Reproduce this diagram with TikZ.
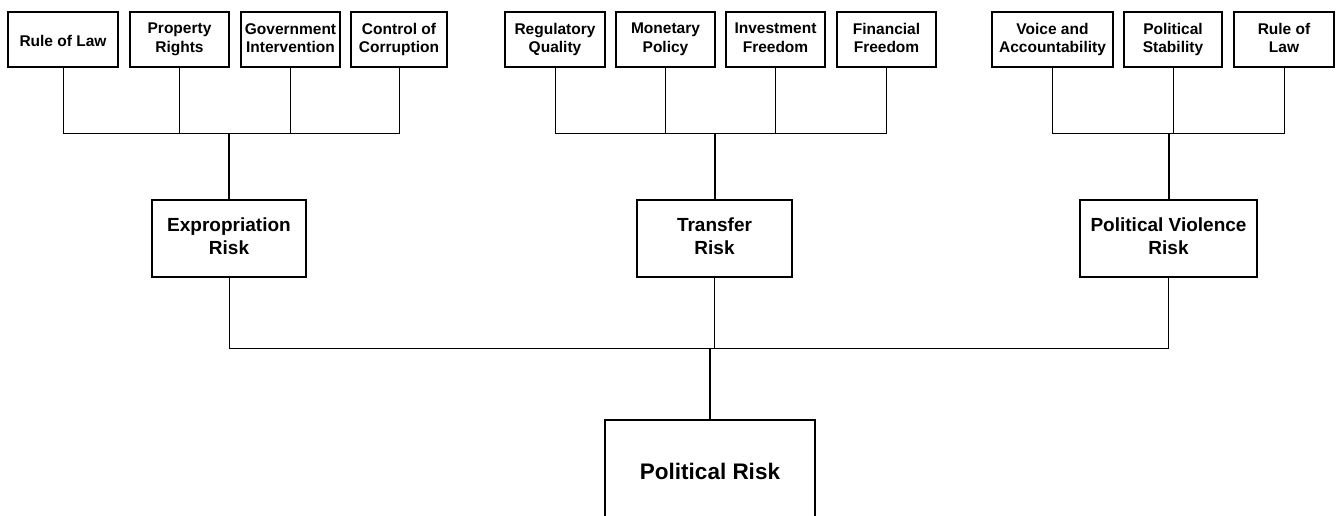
\documentclass[tikz,border=0pt]{standalone}
\usepackage{fontspec}
\setmainfont{Liberation Sans}
\begin{document}
\begin{tikzpicture}[x=1pt,y=-1pt,
  boxbase/.style={draw, line width=1.2pt, inner sep=0pt, align=center,
    execute at begin node={\rule{0pt}{1.126em}}, execute at end node={\rule[-0.21em]{0pt}{0pt}}},
  leaf/.style={boxbase, minimum height=55pt,
    font=\bfseries\fontsize{15.5}{18.5}\selectfont},
  mid/.style={boxbase, minimum height=77pt,
    font=\bfseries\fontsize{19}{22.8}\selectfont},
  root/.style={boxbase,
    font=\bfseries\fontsize{22.5}{26}\selectfont},
  link/.style={line width=1pt},
  trunk/.style={line width=2pt}]
\useasboundingbox (0,0) rectangle (1337,515);
% leaves
\node[leaf, minimum width=110pt] (a1) at (63,39.5) {Rule of Law};
\node[leaf, minimum width=99pt] (a2) at (179.5,39.5) {Property\\Rights};
\node[leaf, minimum width=99pt] (a3) at (290.5,39.5) {Government\\Intervention};
\node[leaf, minimum width=96pt] (a4) at (399,39.5) {Control of\\Corruption};
\node[leaf, minimum width=100pt] (b1) at (555,39.5) {Regulatory\\Quality};
\node[leaf, minimum width=99pt] (b2) at (665.5,39.5) {Monetary\\Policy};
\node[leaf, minimum width=99pt] (b3) at (775.5,39.5) {Investment\\Freedom};
\node[leaf, minimum width=99pt] (b4) at (886.5,39.5) {Financial\\Freedom};
\node[leaf, minimum width=121pt] (c1) at (1052.5,39.5) {Voice and\\Accountability};
\node[leaf, minimum width=98pt] (c2) at (1173,39.5) {Political\\Stability};
\node[leaf, minimum width=100pt] (c3) at (1284,39.5) {Rule of\\Law};
% middle
\node[mid, minimum width=154pt] (exp) at (229,238.5) {Expropriation\\Risk};
\node[mid, minimum width=155pt] (tra) at (714.5,238.5) {Transfer\\Risk};
\node[mid, minimum width=177pt] (pvr) at (1168.5,238.5) {Political Violence\\Risk};
% root
\node[root, minimum width=210pt, minimum height=98pt] (pr) at (710,469) {Political Risk};
% junctions
\coordinate (h1) at (0,133);
\coordinate (h2) at (0,348);
\coordinate (ja) at (exp.north |- h1);
\coordinate (jb) at (tra.north |- h1);
\coordinate (jc) at (pvr.north |- h1);
\coordinate (jr) at (pr.north |- h2);
\foreach \n in {a1,a2,a3,a4} \draw[link] (\n.south) |- (ja);
\foreach \n in {b1,b2,b3,b4} \draw[link] (\n.south) |- (jb);
\foreach \n in {c1,c2,c3} \draw[link] (\n.south) |- (jc);
\draw[trunk] (ja) -- (exp.north);
\draw[trunk] (jb) -- (tra.north);
\draw[trunk] (jc) -- (pvr.north);
\foreach \n in {exp,tra,pvr} \draw[link] (\n.south) |- (jr);
\draw[trunk] (jr) -- (pr.north);
\end{tikzpicture}
\end{document}
